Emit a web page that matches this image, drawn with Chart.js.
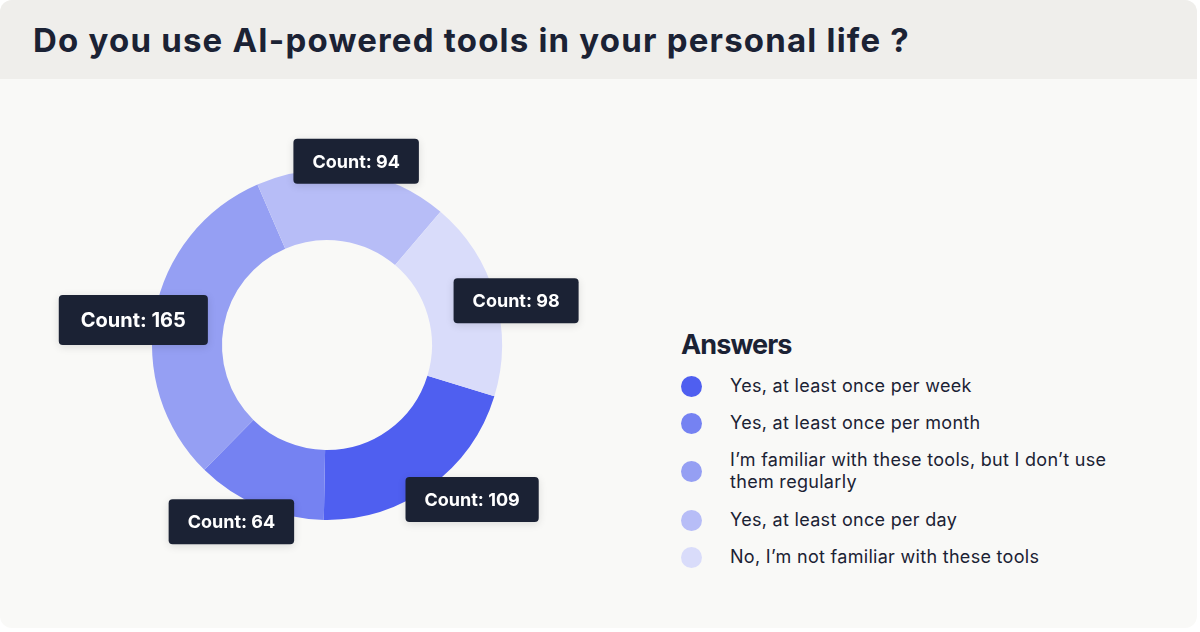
<!DOCTYPE html>
<html><head><meta charset="utf-8">
<script src="https://cdn.jsdelivr.net/npm/chart.js@4.4.1/dist/chart.umd.min.js"></script>
<style>
html,body{margin:0;padding:0;background:#ffffff;width:1200px;height:632px;overflow:hidden;font-family:Inter,"Noto Sans",sans-serif;}
#card{position:absolute;left:0;top:0;width:1197px;height:628px;border-radius:12px;overflow:hidden;background:#F9F9F7;}
#header{position:absolute;left:0;top:0;width:100%;height:79px;background:#EFEEEB;}
#title{position:absolute;left:33px;top:20px;font-weight:700;font-size:33px;line-height:40px;color:#1B2234;letter-spacing:1.2px;white-space:nowrap;}
#chartWrap{position:absolute;left:0;top:79px;width:660px;height:533px;}
#legend{position:absolute;left:681px;top:328px;color:#1B2234;}
#legend h2{margin:0 0 13px 0;font-size:27px;line-height:34px;font-weight:700;letter-spacing:-0.9px;}
.item{display:flex;align-items:center;margin-bottom:15px;}
.dot{width:21px;height:21px;border-radius:50%;flex:0 0 21px;margin-right:28px;}
.txt{font-size:18px;line-height:22px;max-width:395px;letter-spacing:0.3px;}
.item.multi{margin-bottom:16px;}
</style></head>
<body>
<div id="card">
  <div id="header"><div id="title">Do you use AI-powered tools in your personal life ?</div></div>
  <div id="chartWrap"><canvas id="c"></canvas></div>
  <div id="legend"><h2>Answers</h2><div id="items"></div></div>
</div>
<script>
const answers = [
  "Yes, at least once per week",
  "Yes, at least once per month",
  "I\u2019m familiar with these tools, but I don\u2019t use them regularly",
  "Yes, at least once per day",
  "No, I\u2019m not familiar with these tools"
];
const counts = [109, 64, 165, 94, 98];
const colors = ["#4F5FF0", "#7582F2", "#959FF3", "#B7BDF7", "#D9DCFA"];
const labelPrefix = "Count: ";

// HTML legend from the arrays
const items = document.getElementById('items');
answers.forEach((a, i) => {
  const d = document.createElement('div'); d.className = 'item';
  const dot = document.createElement('div'); dot.className = 'dot'; dot.style.background = colors[i];
  const t = document.createElement('div'); t.className = 'txt'; t.textContent = a;
  d.appendChild(dot); d.appendChild(t); items.appendChild(d);
  if (t.getBoundingClientRect().height > 30) d.classList.add('multi');
});

const countLabels = {
  id: 'countLabels',
  afterDatasetsDraw(chart) {
    const ctx = chart.ctx;
    const meta = chart.getDatasetMeta(0);
    const maxV = Math.max(...counts);
    meta.data.forEach((arc, i) => {
      const p = arc.getProps(['x', 'y', 'startAngle', 'endAngle', 'outerRadius'], true);
      const mid = (p.startAngle + p.endAngle) / 2;
      const d = p.outerRadius + 22;
      const dx = Math.cos(mid), dy = Math.sin(mid);
      let cx = p.x + dx * d;
      let cy = p.y + dy * d;
      // pull labels slightly toward the horizontal mid-line
      cy -= (dy >= 0 ? 5 : -11);
      // lower labels pushed outward horizontally
      if (dy > 0.5) cx += dx * 50;
      const big = counts[i] === maxV;
      const fs = big ? 20 : 18;
      const text = labelPrefix + counts[i];
      ctx.save();
      ctx.font = `700 ${fs}px Inter, "Noto Sans", sans-serif`;
      const w = ctx.measureText(text).width + (big ? 44 : 38);
      const h = big ? 50 : 45;
      ctx.shadowColor = 'rgba(0,0,0,0.12)';
      ctx.shadowBlur = 8;
      ctx.shadowOffsetY = 2;
      ctx.fillStyle = '#1B2234';
      ctx.beginPath();
      ctx.roundRect(cx - w / 2, cy - h / 2, w, h, 4);
      ctx.fill();
      ctx.shadowColor = 'transparent';
      ctx.fillStyle = '#FFFFFF';
      ctx.textAlign = 'center';
      ctx.textBaseline = 'middle';
      ctx.fillText(text, cx, cy + 1);
      ctx.restore();
    });
  }
};

new Chart(document.getElementById('c'), {
  type: 'doughnut',
  data: {
    labels: answers,
    datasets: [{ data: counts, backgroundColor: colors, borderWidth: 0, hoverOffset: 0 }]
  },
  options: {
    responsive: true,
    maintainAspectRatio: false,
    animation: false,
    rotation: 107,
    cutout: '60%',
    layout: { padding: { left: 152, right: 158, top: 91, bottom: 92 } },
    plugins: { legend: { display: false }, tooltip: { enabled: false } }
  },
  plugins: [countLabels]
});
</script>
</body></html>
